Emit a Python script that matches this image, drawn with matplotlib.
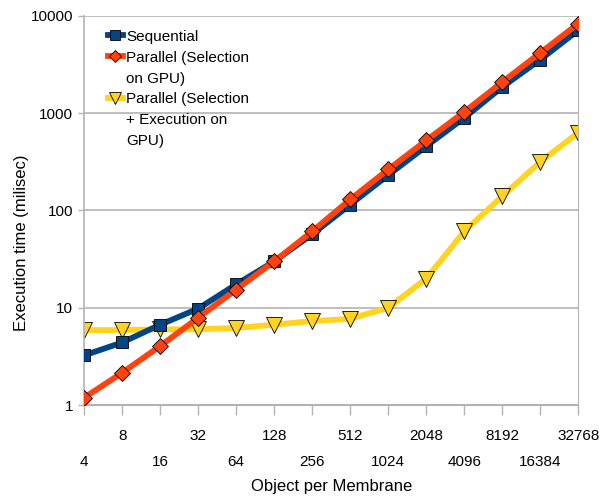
import matplotlib.pyplot as plt
import numpy as np
from matplotlib.lines import Line2D

plt.rcParams['font.family'] = ['Liberation Sans', 'DejaVu Sans']

objects = ["4", "8", "16", "32", "64", "128", "256", "512", "1024", "2048",
           "4096", "8192", "16384", "32768"]
sequential = [3.24, 4.4, 6.7, 9.8, 17.4, 30, 57, 115, 231, 458, 896, 1860, 3550, 7130]
par_sel = [1.19, 2.15, 4.04, 7.9, 15.4, 30, 61, 130, 264, 525, 1030, 2090, 4170, 8330]
par_sel_exec = [5.9, 5.9, 6.0, 6.0, 6.2, 6.7, 7.3, 7.7, 10, 19.9, 61, 140, 316, 630]

x = np.arange(len(objects))

fig = plt.figure(figsize=(6.1, 4.97), dpi=100)
ax = fig.add_axes([0.138, 0.185, 0.81, 0.783])

l1, = ax.plot(x, sequential, color="#004586", lw=4.2, marker="s", ms=9,
              mec="black", mew=0.6, zorder=3)
l2, = ax.plot(x, par_sel, color="#ff420e", lw=4.2, marker="D", ms=8,
              mec="black", mew=0.6, zorder=4)
l3, = ax.plot(x, par_sel_exec, color="#ffd320", lw=4.2, marker="v", ms=11,
              mec="black", mew=0.6, zorder=2)

ax.set_yscale("log")
ax.set_ylim(1, 10000)
ax.set_xlim(0, 13)
ax.set_yticks([1, 10, 100, 1000, 10000])
ax.set_yticklabels(["1", "10", "100", "1000", "10000"])
ax.yaxis.set_minor_locator(plt.NullLocator())
ax.grid(axis="y", color="#b3b3b3", lw=1.2)
ax.set_axisbelow(True)

ax.set_xticks(x)
ax.set_xticklabels(objects)
for i, t in enumerate(ax.xaxis.get_major_ticks()):
    t.set_pad(29 if i % 2 == 0 else 10)

ax.tick_params(axis="x", length=7, width=1, color="#b3b3b3", labelsize=11)
ax.tick_params(axis="y", length=4, width=1, color="#b3b3b3", labelsize=11, pad=4)

ax.spines["top"].set_visible(False)
ax.spines["left"].set_color("#b3b3b3")
ax.spines["right"].set_color("#b3b3b3")
ax.spines["bottom"].set_color("#b3b3b3")
ax.spines["bottom"].set_linewidth(1.5)
ax.spines["left"].set_linewidth(1.2)

ax.set_xlabel("Object per Membrane", fontsize=12, labelpad=7)
ax.set_ylabel("Execution time (milisec)", fontsize=12)
ax.yaxis.set_label_coords(-0.111, 0.416)

# legend: wrapped labels, handle only on first line of each entry
blank = Line2D([], [], color="none")
def h(c, m, ms):
    return Line2D([], [], color=c, lw=4.2, marker=m, ms=ms, mec="black", mew=0.6)
handles = [h("#004586", "s", 7), h("#ff420e", "D", 6), blank,
           h("#ffd320", "v", 8), blank, blank]
labels = ["Sequential", "Parallel (Selection", "on GPU)",
          "Parallel (Selection", "+ Execution on", "GPU)"]
ax.legend(handles, labels, loc="upper left", bbox_to_anchor=(0.035, 0.98),
          frameon=False, fontsize=11, handlelength=1.0, handletextpad=0.2,
          labelspacing=0.45, borderaxespad=0)

fig.savefig("out.png", dpi=100)
